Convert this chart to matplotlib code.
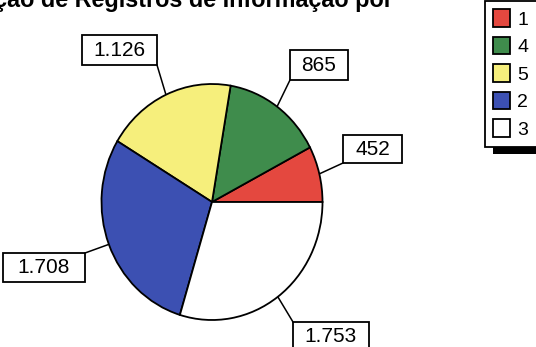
import numpy as np
import matplotlib
matplotlib.use("Agg")
import matplotlib.pyplot as plt
from matplotlib.patches import Rectangle

plt.rcParams["font.family"] = ["Liberation Sans", "DejaVu Sans"]

# ── data (slice order as drawn, counter-clockwise from 3 o'clock) ──
CATEGORIES   = ["1", "4", "5", "2", "3"]
COUNTS       = [452, 865, 1126, 1708, 1753]
COUNT_LABELS = ["452", "865", "1.126", "1.708", "1.753"]
COLORS       = ["#e4483f", "#3f8c4c", "#f6ef7c", "#3c50b2", "#ffffff"]
TITLE        = "Distribuição de Registros de Informação por"

# ── layout (pixels, y measured from the top) ──
W, H = 536, 347
CX, CY, RX, RY = 212, 202, 110.5, 118
BOX_CENTER = [(372.5, 149), (319, 65), (119.5, 50), (44, 267.5), (331, 337)]
BOX_SIZE   = [(59, 28), (58, 30), (75, 30), (82, 29), (76, 30)]
BOX_CORNER = [(0, 1), (0, 1), (1, 1), (1, 0), (0, 0)]   # where the leader attaches

fig = plt.figure(figsize=(W / 100, H / 100), dpi=100)

# overlay in pixel coordinates for boxes, leaders, legend shadow
ov = fig.add_axes([0, 0, 1, 1])
ov.set_xlim(0, W)
ov.set_ylim(H, 0)
ov.axis("off")

# pie (slightly taller than wide, as in the scan)
pax = fig.add_axes([(CX - RX) / W, 1 - (CY + RY) / H, 2 * RX / W, 2 * RY / H])
wedges, _ = pax.pie(COUNTS, colors=COLORS, startangle=0, counterclock=True,
                    wedgeprops=dict(edgecolor="black", linewidth=1.3))
pax.set_aspect("auto")
pax.set_xlim(-1, 1)
pax.set_ylim(-1, 1)

# value boxes + leader lines from each wedge's mid-angle
for w, txt, (bx, by), (bw, bh), (fx, fy) in zip(wedges, COUNT_LABELS,
                                                 BOX_CENTER, BOX_SIZE, BOX_CORNER):
    mid = np.deg2rad((w.theta1 + w.theta2) / 2)
    ex, ey = CX + RX * np.cos(mid), CY - RY * np.sin(mid)
    x0, y0 = bx - bw / 2, by - bh / 2
    ov.plot([x0 + fx * bw, ex], [y0 + fy * bh, ey], color="black", lw=1.1)
    ov.add_patch(Rectangle((x0, y0), bw, bh, facecolor="white",
                           edgecolor="black", lw=1.3, zorder=3))
    ov.text(bx, by, txt, ha="center", va="center", fontsize=15, zorder=4)

# legend with a hard black drop shadow
ov.add_patch(Rectangle((493, 9), 60, 145, facecolor="black", edgecolor="none"))
leg = pax.legend(wedges, CATEGORIES, loc="upper left",
                 bbox_to_anchor=(485 / W, 1 - 1 / H), bbox_transform=fig.transFigure,
                 fontsize=14, frameon=True, fancybox=False, framealpha=1,
                 edgecolor="black", handlelength=0.85, handleheight=1.0,
                 labelspacing=0.42, borderpad=0.42, handletextpad=0.4,
                 borderaxespad=0)
leg.get_frame().set_linewidth(1.3)

# title, cut off at the top edge of the scan
fig.text(393 / W, 1 - 7 / H, TITLE, ha="right", va="baseline",
         fontsize=16.8, fontweight="bold")

plt.savefig("out.png", dpi=100)
